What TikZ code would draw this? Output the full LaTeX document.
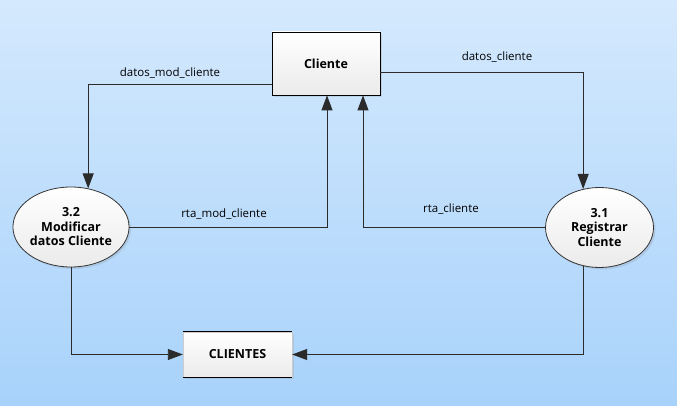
\documentclass[tikz,border=0pt]{standalone}
\usepackage{fontspec}
\setmainfont{Open Sans}
\usetikzlibrary{arrows.meta,shapes.geometric,shadows}

\definecolor{bgtop}{HTML}{D4E9FD}
\definecolor{bgbottom}{HTML}{A8D2FB}
\definecolor{linegray}{HTML}{2B2B2B}

\tikzset{
    flow/.style={draw=linegray, line width=0.9pt, -{Triangle[length=15pt,width=11pt]}},
    flowlabel/.style={font=\fontsize{11.5}{13}\selectfont, inner sep=0pt},
    entity/.style={draw=black, line width=0.8pt, top color=white, bottom color=black!8,
        minimum width=108pt, minimum height=63pt, font=\fontsize{12.5}{14}\selectfont\bfseries,
        drop shadow={opacity=0.2, shadow xshift=2pt, shadow yshift=-2pt}},
    process/.style={ellipse, draw=black!80, line width=0.8pt, top color=white, bottom color=black!8,
        minimum width=108pt, minimum height=80pt, inner sep=0pt, align=center,
        font=\fontsize{12.5}{14.5}\selectfont\bfseries,
        drop shadow={opacity=0.2, shadow xshift=2pt, shadow yshift=-2pt}},
    store/.style={draw=black!20, top color=white, bottom color=black!8,
        minimum width=109pt, minimum height=45pt, font=\fontsize{12.5}{14}\selectfont\bfseries,
        drop shadow={opacity=0.2, shadow xshift=2pt, shadow yshift=-2pt}},
}

\begin{document}
\begin{tikzpicture}[x=1pt, y=-1pt]

    % Background
    \shade[top color=bgtop, bottom color=bgbottom] (0,0) rectangle (677,406);
    \useasboundingbox (0,0) rectangle (677,406);

    % External entity, processes and data store
    \node[entity] (cliente) at (326,63.5) {Cliente};
    \node[process] (p32) at (71,227) {3.2\\Modificar\\datos Cliente};
    \node[process] (p31) at (599.5,227.5) {3.1\\Registrar\\Cliente};
    \node[store] (clientes) at (237.5,354.5) {CLIENTES};
    \draw[line width=1.2pt] (clientes.north west) -- (clientes.north east);
    \draw[line width=1.2pt] (clientes.south west) -- (clientes.south east);

    % Flows
    \draw[flow] ([yshift=-21pt]cliente.west) -| (p32.66);
    \draw[flow] ([yshift=-8.5pt]cliente.east) -| (p31.113);
    \draw[flow] (p32.east) -| ([xshift=1pt]cliente.south);
    \draw[flow] (p31.west) -| ([xshift=37pt]cliente.south);
    \draw[flow] (p32.south) |- (clientes.west);
    \draw[flow] (p31.-113) |- (clientes.east);

    % Flow labels
    \node[flowlabel] (lbl-datosmod) at (170,73) {datos\_mod\_cliente};
    \node[flowlabel] (lbl-datos) at (497,57) {datos\_cliente};
    \node[flowlabel] (lbl-rtamod) at (224,214) {rta\_mod\_cliente};
    \node[flowlabel] (lbl-rta) at (451,209) {rta\_cliente};

\end{tikzpicture}
\end{document}
